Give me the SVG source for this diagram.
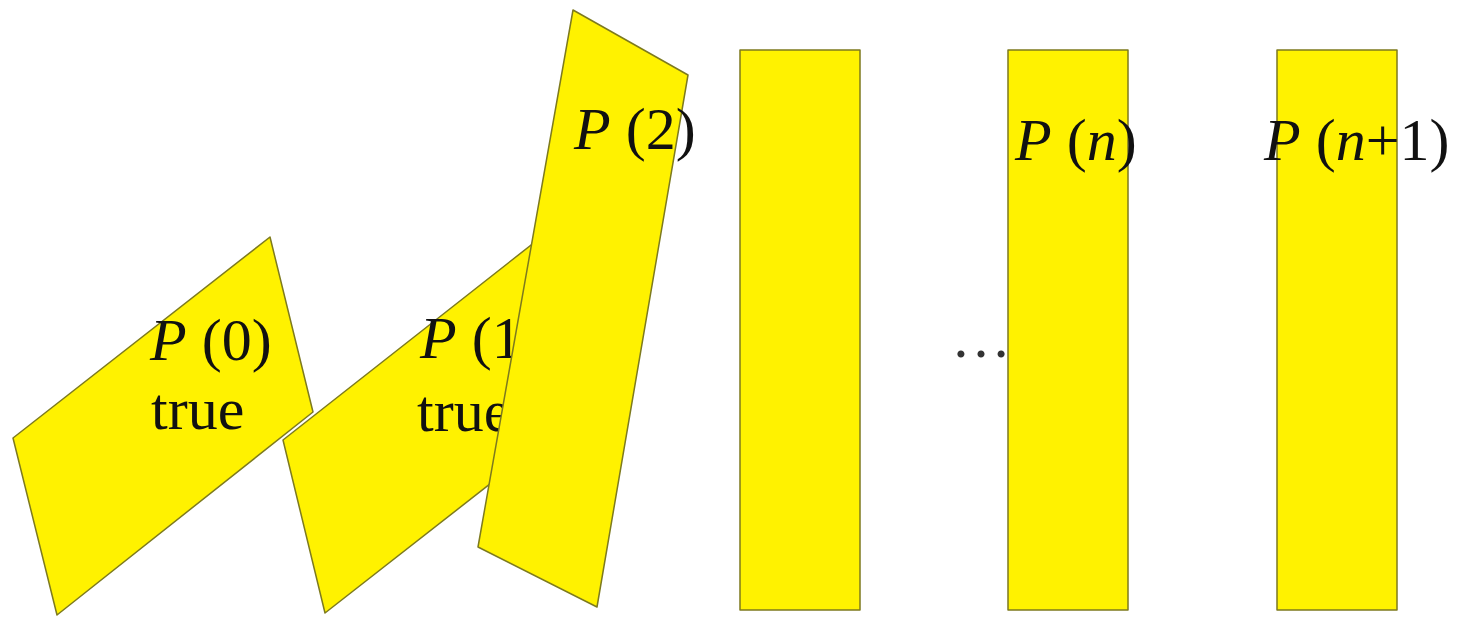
<svg xmlns="http://www.w3.org/2000/svg" width="1464" height="617" viewBox="0 0 1464 617">
<style>
.dom{fill:#fff200;stroke:#7d7a1e;stroke-width:1.5;stroke-linejoin:round}
.lbl{font-family:"Liberation Serif","Times New Roman",serif;font-size:60px;fill:#111}
.it{font-style:italic}
</style>
<rect width="1464" height="617" fill="#fff"/>
<g id="domino0">
<polygon class="dom" points="13,438 270,237 313,412 57,615"/>
<text class="lbl" x="150" y="360"><tspan class="it">P</tspan> (0)</text>
<text class="lbl" x="151" y="429">true</text>
</g>
<g id="domino1">
<polygon class="dom" points="283,440 540,238 582,412 325,613"/>
<text class="lbl" x="420" y="358"><tspan class="it">P</tspan> (1)</text>
<text class="lbl" x="417" y="431">true</text>
</g>
<g id="domino2">
<polygon class="dom" points="573,10 688,75 597,607 478,547"/>
<text class="lbl" x="574" y="149"><tspan class="it">P</tspan> (2)</text>
</g>
<g id="domino3">
<rect class="dom" x="740" y="50" width="120" height="560"/>
</g>
<g id="ellipsis">
<text class="lbl" x="951" y="357" style="fill:#333">…</text>
</g>
<g id="dominoN">
<rect class="dom" x="1008" y="50" width="120" height="560"/>
<text class="lbl" x="1015" y="160"><tspan class="it">P</tspan> (<tspan class="it">n</tspan>)</text>
</g>
<g id="dominoN1">
<rect class="dom" x="1277" y="50" width="120" height="560"/>
<text class="lbl" x="1264" y="160"><tspan class="it">P</tspan> (<tspan class="it">n</tspan>+1)</text>
</g>
<g id="connectors"/>
</svg>
